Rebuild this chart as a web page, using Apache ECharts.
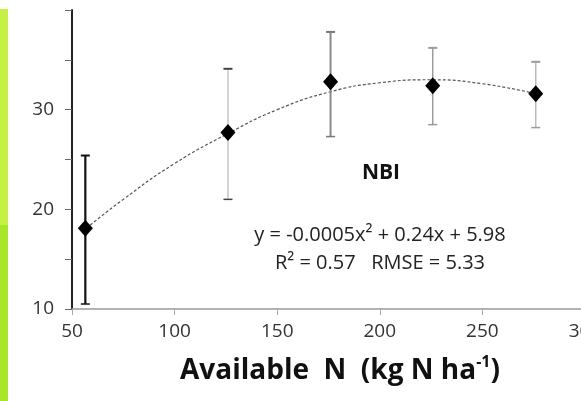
<!DOCTYPE html>
<html lang="en">
    <head>
        <meta charset="UTF-8">
        <title>NBI vs Available N</title>
        <script src="https://cdn.jsdelivr.net/npm/echarts@6/dist/echarts.min.js"></script>
        <style>
            html, body { margin: 0; padding: 0; background: #fff; }
            #id_chart { width: 581px; height: 401px; }
        </style>
    </head>
    <body>
        <div id="id_chart"></div>
        <script>
            // measured points (mean +/- error)
            var nValues = [56.5, 126, 176, 225.8, 276];
            var nbiMeans = [18.1, 27.7, 32.8, 32.4, 31.6];
            var errLow = [10.5, 21.0, 27.3, 28.5, 28.2];
            var errHigh = [25.4, 34.1, 37.8, 36.2, 34.8];

            // fitted curve
            var curveN = [57, 75, 100, 126, 150, 176, 200, 225, 250, 276];
            var curveNBI = [18.1, 21.0, 24.6, 27.6, 30.0, 31.8, 32.7, 33.0, 32.6, 31.6];

            var yLabels = [10, 20, 30];

            // error bar look, one per point
            var barColors = ['#111', '#c6c6c6', '#8a8a8a', '#9c9c9c', '#bcbcbc'];
            var capColors = ['#111', '#444', '#777', '#999', '#999'];
            var barWidths = [2.2, 1.5, 2, 1.5, 1.5];

            var points = nValues.map(function (x, i) { return [x, nbiMeans[i]]; });
            var errData = nValues.map(function (x, i) { return [x, errLow[i], errHigh[i], i]; });
            var curveData = curveN.map(function (x, i) { return [x, curveNBI[i]]; });

            var myChart = echarts.init(document.getElementById("id_chart"));
            var option = {
                backgroundColor: '#fff',
                animation: false,
                grid: {
                    left: 72, right: -4, top: 10, bottom: 92,
                    containLabel: false,
                    outerBoundsMode: 'none'
                },
                xAxis: {
                    type: 'value',
                    min: 50, max: 300, interval: 50,
                    axisLine: { lineStyle: { color: '#999', width: 1.5 } },
                    axisTick: { show: true, length: 6, lineStyle: { color: '#aaa', width: 1 } },
                    axisLabel: { margin: 13, color: '#333', fontSize: 19, fontFamily: 'Open Sans' },
                    splitLine: { show: false }
                },
                yAxis: {
                    type: 'value',
                    min: 10, max: 40, interval: 5,
                    axisLine: { show: true, lineStyle: { color: '#222', width: 2 } },
                    axisTick: { show: true, length: 7, lineStyle: { color: '#666', width: 1 } },
                    axisLabel: {
                        margin: 18, color: '#333', fontSize: 19, fontFamily: 'Open Sans',
                        formatter: function (v) { return yLabels.indexOf(v) >= 0 ? String(v) : ''; }
                    },
                    splitLine: { show: false }
                },
                series: [
                    {
                        type: 'line',
                        data: curveData,
                        smooth: true,
                        symbol: 'none',
                        lineStyle: { color: '#555', width: 1.2, type: [3, 2] },
                        z: 1
                    },
                    {
                        type: 'custom',
                        data: errData,
                        z: 2,
                        renderItem: function (params, api) {
                            var i = api.value(3);
                            var hi = api.coord([api.value(0), api.value(2)]);
                            var lo = api.coord([api.value(0), api.value(1)]);
                            var cap = 4.5;
                            return {
                                type: 'group',
                                children: [
                                    { type: 'line', shape: { x1: hi[0], y1: hi[1], x2: lo[0], y2: lo[1] },
                                      style: { stroke: barColors[i], lineWidth: barWidths[i] } },
                                    { type: 'line', shape: { x1: hi[0] - cap, y1: hi[1], x2: hi[0] + cap, y2: hi[1] },
                                      style: { stroke: capColors[i], lineWidth: 2 } },
                                    { type: 'line', shape: { x1: lo[0] - cap, y1: lo[1], x2: lo[0] + cap, y2: lo[1] },
                                      style: { stroke: capColors[i], lineWidth: 1.5 } }
                                ]
                            };
                        }
                    },
                    {
                        type: 'scatter',
                        data: points,
                        symbol: 'diamond',
                        symbolSize: [15, 17],
                        itemStyle: { color: '#000', opacity: 1 },
                        z: 3
                    }
                ],
                graphic: [
                    { type: 'rect', shape: { x: 0, y: 9, width: 8, height: 216 }, style: { fill: '#c6f144' }, silent: true },
                    { type: 'rect', shape: { x: 0, y: 225, width: 8, height: 176 }, style: { fill: '#a8e629' }, silent: true },
                    { type: 'text', x: 381, y: 173, style: { text: 'NBI', fill: '#111', font: 'bold 21px "Open Sans"', align: 'center', verticalAlign: 'middle' } },
                    { type: 'text', x: 380, y: 235, style: { text: 'y = -0.0005x² + 0.24x + 5.98', fill: '#222', font: '20px "Open Sans"', align: 'center', verticalAlign: 'middle' } },
                    { type: 'text', x: 380, y: 263, style: { text: 'R² = 0.57   RMSE = 5.33', fill: '#222', font: '20px "Open Sans"', align: 'center', verticalAlign: 'middle' } },
                    {
                        type: 'text', x: 340, y: 371,
                        style: {
                            text: '{b|Available  N  (kg N ha}{s|-1}{b|)}',
                            align: 'center', verticalAlign: 'middle',
                            rich: {
                                b: { fontSize: 28, fontWeight: 'bold', fontFamily: 'Open Sans', fill: '#111', lineHeight: 34 },
                                s: { fontSize: 16, fontWeight: 'bold', fontFamily: 'Open Sans', fill: '#111', verticalAlign: 'top', lineHeight: 34 }
                            }
                        }
                    }
                ]
            };
            myChart.setOption(option);
        </script>
    </body>
</html>
